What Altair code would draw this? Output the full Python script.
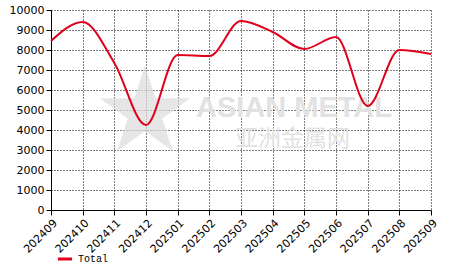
import altair as alt
import pandas as pd

months = ["202409", "202410", "202411", "202412", "202501", "202502", "202503",
          "202504", "202505", "202506", "202507", "202508", "202509"]
values = [8450, 9400, 7350, 4250, 7750, 7700, 9450, 8900, 8050, 8650, 5200, 8000, 7800]
series = ["Total"] * len(months)

df = pd.DataFrame({"month": months, "value": values, "series": series})

x = alt.X("month:N", sort=months, title=None,
          scale=alt.Scale(paddingOuter=0, paddingInner=0, padding=0),
          axis=alt.Axis(labelAngle=-45, labelAlign="right", labelBaseline="top",
                        labelFont="DejaVu Sans", labelFontSize=11, labelColor="#000",
                        domainColor="#000", tickColor="#000", tickSize=5,
                        grid=True, gridColor="#000", gridDash=[1, 2], gridOpacity=1,
                        labelPadding=2))
y = alt.Y("value:Q", title=None,
          scale=alt.Scale(domain=[0, 10000], nice=False),
          axis=alt.Axis(values=list(range(0, 10001, 1000)), format="d",
                        labelFont="DejaVu Sans",
                        labelFontSize=11, labelColor="#000", domainColor="#000",
                        tickColor="#000", tickSize=5, grid=True, gridColor="#000",
                        gridDash=[1, 2], gridOpacity=1))

star = alt.Chart(pd.DataFrame({"a": [0]})).mark_point(
    shape="M0,-1L0.2245,-0.309L0.951,-0.309L0.363,0.118L0.588,0.809L0,0.382L-0.588,0.809L-0.363,0.118L-0.951,-0.309L-0.2245,-0.309Z",
    filled=True, color="#dcdcdc", opacity=0.7, size=9000
).encode(x=alt.value(94), y=alt.value(103))

wm1 = alt.Chart(pd.DataFrame({"a": [0]})).mark_text(
    text="ASIAN METAL", font="Liberation Sans", fontSize=29, fontWeight="bold",
    color="#e2e2e2", align="left", baseline="middle"
).encode(x=alt.value(145), y=alt.value(98))

wm2 = alt.Chart(pd.DataFrame({"a": [0]})).mark_text(
    text="亚洲金属网", font="Noto Sans CJK SC", fontSize=23,
    color="#e2e2e2", align="left", baseline="middle"
).encode(x=alt.value(184), y=alt.value(129))

line = alt.Chart(df).mark_line(interpolate="monotone", strokeWidth=2).encode(
    x=x, y=y,
    color=alt.Color("series:N", title=None,
                    scale=alt.Scale(range=["#e0001b"]),
                    legend=alt.Legend(orient="none", legendX=5, legendY=240,
                                      symbolType="stroke", symbolStrokeWidth=3,
                                      symbolSize=200, labelFont="Liberation Mono",
                                      labelFontSize=10, labelColor="#000"))
)

chart = alt.layer(star, wm1, wm2, line).properties(
    width=380, height=200,
    autosize=alt.AutoSizeParams(type="none"),
    padding={"left": 51, "top": 10, "right": 35, "bottom": 62}
).configure_view(stroke=None)

chart.save("out.html", embed_options={"renderer": "svg", "actions": False})
